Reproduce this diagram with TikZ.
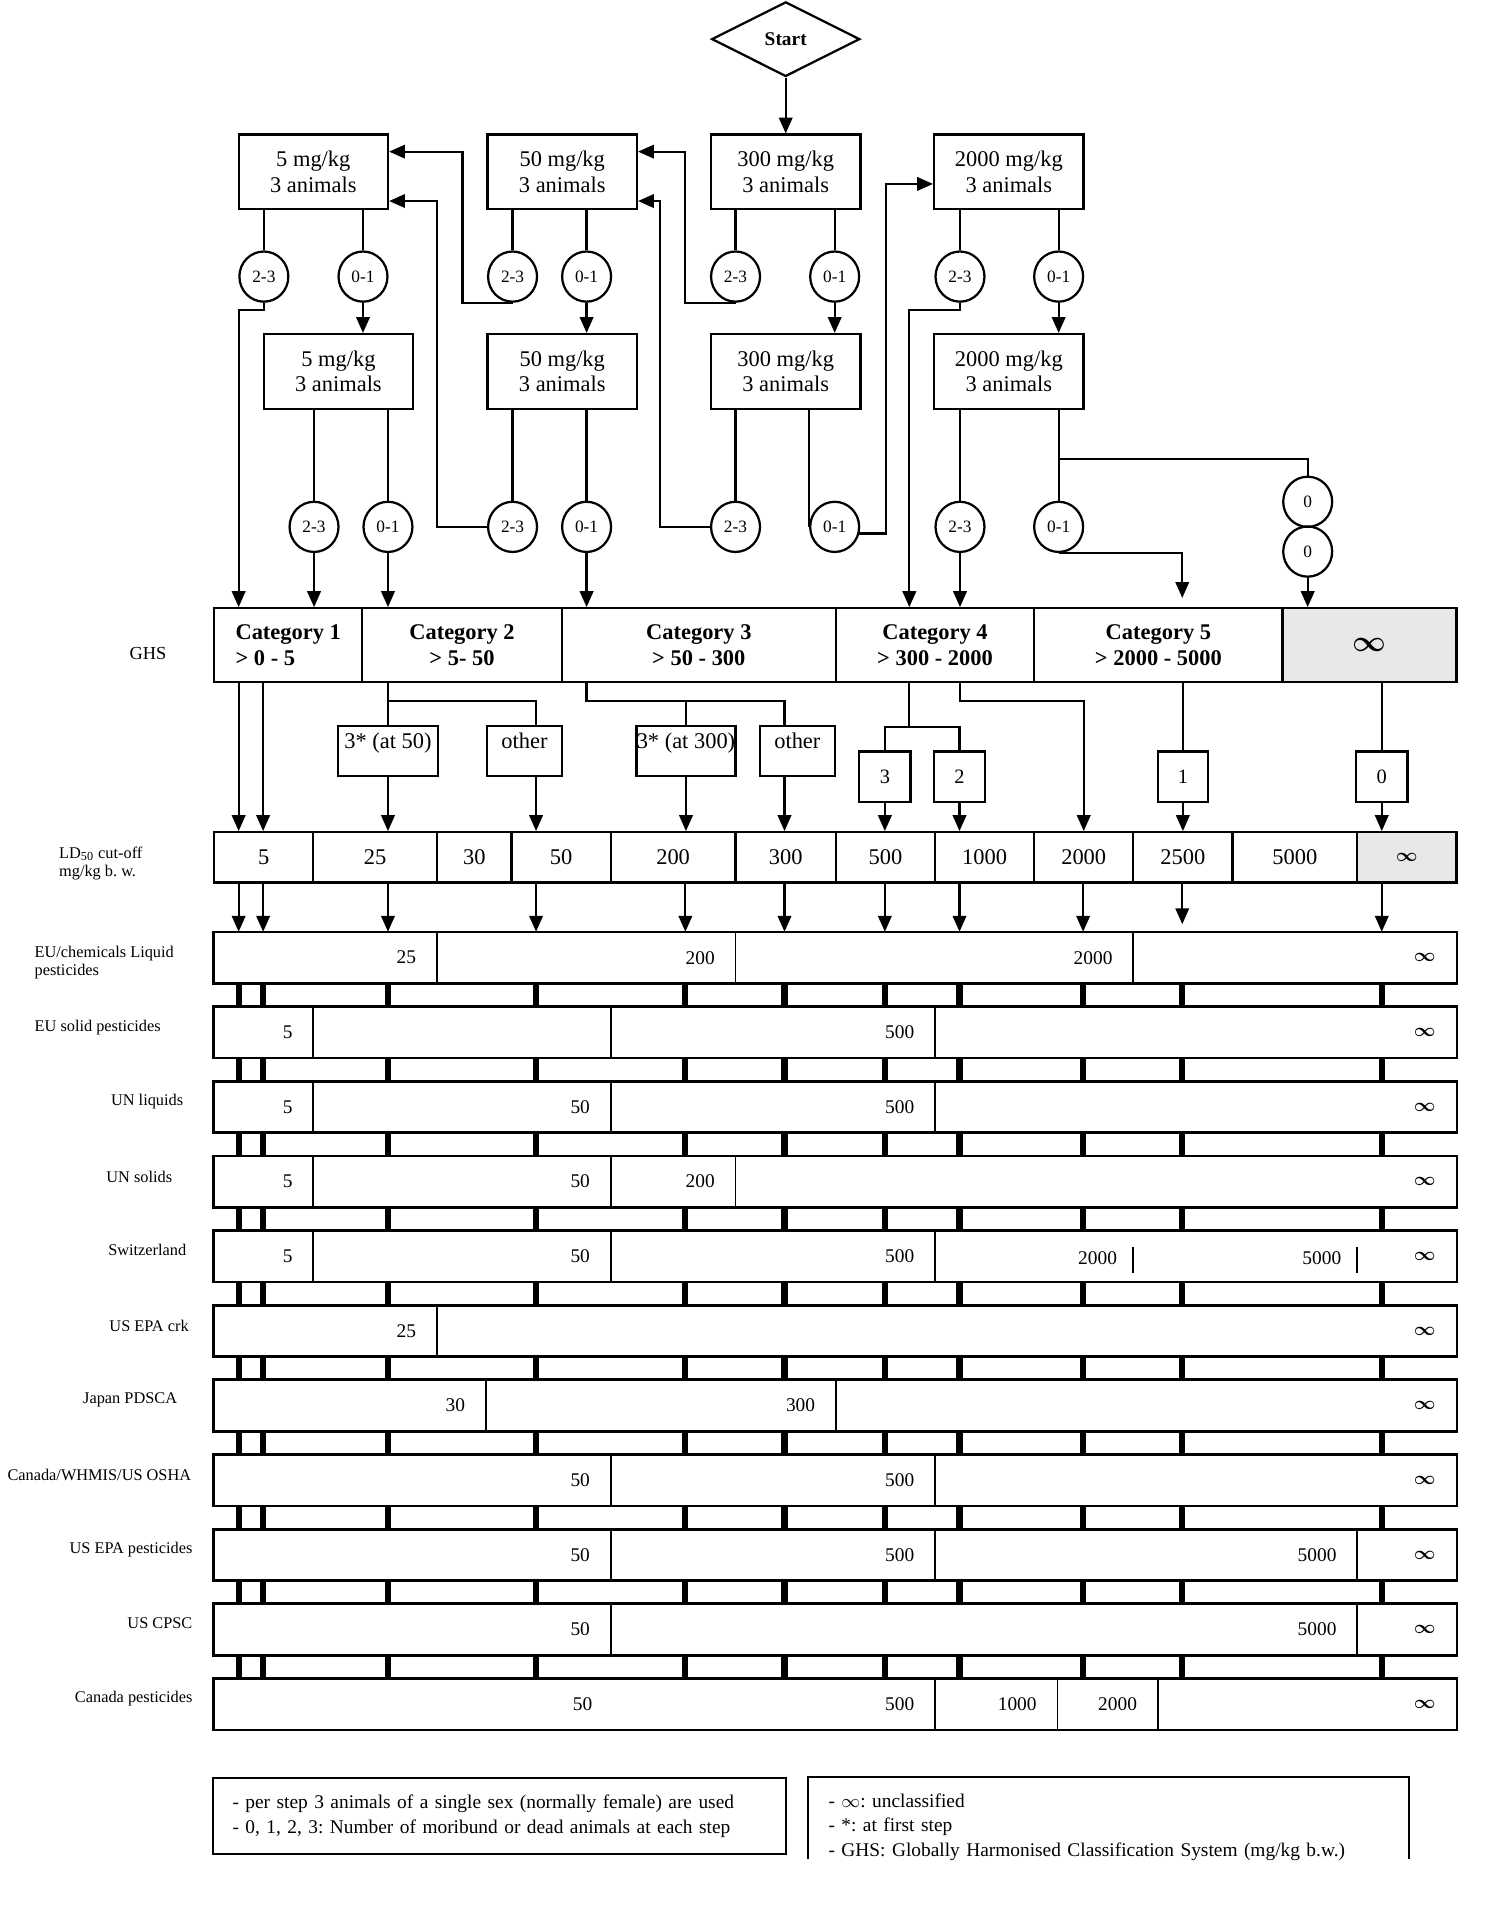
\documentclass[tikz,border=0pt]{standalone}
\usepackage{fontspec}
\setmainfont{Liberation Serif}
\usetikzlibrary{arrows.meta,shapes.geometric}
\frenchspacing

\newcommand{\cellat}[6]{%
  \pgfmathsetlengthmacro\cellw{(#4-#3)*0.6pt}%
  \node[#1, minimum width=\cellw] (#2) at ({(#3+#4)/2},#5) {#6};}
\newcommand{\segat}[5]{%
  \pgfmathsetlengthmacro\segw{(#3-#2-34)*0.6pt}%
  \node[segbox, text width=\segw] (#1) at ({(#2+#3)/2},#4) {#5};}
\newcommand{\unc}{{\boldmath$\infty$}}

\begin{document}
\begin{tikzpicture}[x=0.6pt, y=-0.6pt,
        startbox/.style={diamond, draw, line width=1.1pt, minimum width=72.6pt, minimum height=36.6pt, inner sep=0pt, font=\bfseries\fontsize{9.5}{11}\selectfont},
        dosebox/.style={rectangle, draw, line width=1.1pt, minimum width=73.2pt, minimum height=36.6pt, inner sep=0pt, align=center, font=\fontsize{11}{12.6}\selectfont},
        deaths/.style={ellipse, draw, line width=1.1pt, minimum width=24pt, minimum height=24.6pt, inner sep=0pt, font=\fontsize{8.5}{10}\selectfont},
        ghs/.style={rectangle, draw, line width=1.1pt, minimum height=36pt, inner sep=0pt, align=center, font=\bfseries\fontsize{11}{12.6}\selectfont},
        cutoff/.style={rectangle, draw, line width=1.1pt, minimum height=24.6pt, inner sep=0pt, font=\fontsize{11}{13}\selectfont},
        pickbox/.style={rectangle, draw, line width=1.1pt, text height=11pt, text depth=13.6pt, inner sep=0pt, font=\fontsize{11}{13}\selectfont},
        tally/.style={rectangle, draw, line width=1.1pt, minimum height=24.6pt, inner sep=0pt, font=\fontsize{10}{12}\selectfont},
        segbox/.style={rectangle, draw, line width=0.8pt, minimum height=24.6pt, inner xsep=10.2pt, inner ysep=0pt, align=right, font=\fontsize{9.5}{11}\selectfont},
        barnum/.style={inner sep=0pt, font=\fontsize{9.5}{11}\selectfont},
        unclass/.style={fill=gray!18},
        rowlab/.style={inner sep=0pt, align=left, font=\fontsize{8}{9}\selectfont},
        notebox/.style={inner xsep=9.6pt, inner ysep=0pt, align=left, line width=1.1pt, font=\fontsize{9.5}{12}\selectfont},
        rowframe/.style={line width=1.2pt},
        link/.style={line width=1.1pt},
        arrow/.style={-{Triangle[length=7.8pt,width=6.6pt]}, line width=1.1pt},
        gapbar/.style={line width=3pt}
    ]
        \useasboundingbox (0,0) rectangle (1229,1568);

        \coordinate (colA) at (195,0);
        \coordinate (colB) at (215,0);
        \coordinate (colC) at (317,0);
        \coordinate (colD) at (438,0);
        \coordinate (colE) at (560,0);
        \coordinate (colF) at (641,0);
        \coordinate (colG) at (723,0);
        \coordinate (colH) at (784,0);
        \coordinate (colI) at (885,0);
        \coordinate (colJ) at (966,0);
        \coordinate (colK) at (1129,0);
        \coordinate (fork2) at (317,573);
        \coordinate (fork3) at (479.3,573);
        \coordinate (fork4) at (743,594);
        \coordinate (fork4b) at (784.4,573);
        \coordinate (zerofork) at (865,375);

        \node[startbox] (start) at (642,32) {Start};

        \node[dosebox] (dose5) at (256,140.5) {5 mg/kg\\3 animals};
        \node[dosebox] (dose50) at (459.4,140.5) {50 mg/kg\\3 animals};
        \node[dosebox] (dose300) at (642,140.5) {300 mg/kg\\3 animals};
        \node[dosebox] (dose2000) at (824.3,140.5) {2000 mg/kg\\3 animals};

        \node[deaths] (hi5) at (215.6,226) {2-3};
        \node[deaths] (lo5) at (296.6,226) {0-1};
        \node[deaths] (hi50) at (418.8,226) {2-3};
        \node[deaths] (lo50) at (479.3,226) {0-1};
        \node[deaths] (hi300) at (601,226) {2-3};
        \node[deaths] (lo300) at (682,226) {0-1};
        \node[deaths] (hi2000) at (784.4,226) {2-3};
        \node[deaths] (lo2000) at (865,226) {0-1};

        \node[dosebox] (redo5) at (276.5,303.5) {5 mg/kg\\3 animals};
        \node[dosebox] (redo50) at (459.4,303.5) {50 mg/kg\\3 animals};
        \node[dosebox] (redo300) at (642,303.5) {300 mg/kg\\3 animals};
        \node[dosebox] (redo2000) at (824.3,303.5) {2000 mg/kg\\3 animals};

        \node[deaths] (hi5r) at (256.6,430.5) {2-3};
        \node[deaths] (lo5r) at (317,430.5) {0-1};
        \node[deaths] (hi50r) at (418.8,430.5) {2-3};
        \node[deaths] (lo50r) at (479.3,430.5) {0-1};
        \node[deaths] (hi300r) at (601,430.5) {2-3};
        \node[deaths] (lo300r) at (682,430.5) {0-1};
        \node[deaths] (hi2000r) at (784.4,430.5) {2-3};
        \node[deaths] (lo2000r) at (865,430.5) {0-1};
        \node[deaths] (zeroA) at (1068.5,410) {0};
        \node[deaths] (zeroB) at (1068.5,450.7) {0};

        \node[rowlab, font=\fontsize{9}{11}\selectfont] (ghslab) at (121,534) {GHS};
        \cellat{ghs, align=left}{g1}{175}{296}{527}{Category 1\\> 0 - 5}
        \cellat{ghs}{g2}{296}{459}{527}{Category 2\\> 5- 50}
        \cellat{ghs}{g3}{459}{683}{527}{Category 3\\> 50 - 300}
        \cellat{ghs}{g4}{683}{845}{527}{Category 4\\> 300 - 2000}
        \cellat{ghs}{g5}{845}{1048}{527}{Category 5\\> 2000 - 5000}
        \cellat{ghs, unclass}{g6}{1048}{1190}{527}{\fontsize{14}{16}\selectfont\unc}

        \cellat{pickbox}{p50}{276}{358}{613.5}{3* (at 50)}
        \cellat{pickbox}{o50}{398}{459}{613.5}{other}
        \cellat{pickbox}{p300}{520}{601}{613.5}{3* (at 300)}
        \cellat{pickbox}{o300}{621}{682}{613.5}{other}
        \cellat{tally}{n3}{702}{744}{634.5}{3}
        \cellat{tally}{n2}{763}{805}{634.5}{2}
        \cellat{tally}{n1}{946}{987}{634.5}{1}
        \cellat{tally}{n0}{1108}{1150}{634.5}{0}

        \node[rowlab, anchor=west] (ldlab) at (48,705.5) {LD\textsubscript{50} cut-off\\mg/kg b. w.};
        \cellat{cutoff}{l1}{175}{256}{700.5}{5}
        \cellat{cutoff}{l2}{256}{357}{700.5}{25}
        \cellat{cutoff}{l3}{357}{418}{700.5}{30}
        \cellat{cutoff}{l4}{418}{499}{700.5}{50}
        \cellat{cutoff}{l5}{499}{601}{700.5}{200}
        \cellat{cutoff}{l6}{601}{683}{700.5}{300}
        \cellat{cutoff}{l7}{683}{764}{700.5}{500}
        \cellat{cutoff}{l8}{764}{845}{700.5}{1000}
        \cellat{cutoff}{l9}{845}{926}{700.5}{2000}
        \cellat{cutoff}{l10}{926}{1007}{700.5}{2500}
        \cellat{cutoff}{l11}{1007}{1109}{700.5}{5000}
        \cellat{cutoff, unclass}{l12}{1109}{1190}{700.5}{\fontsize{9.5}{11}\selectfont\unc}

        \node[rowlab, anchor=west] (lab1) at (28,786.5) {EU/chemicals Liquid\\pesticides};
        \segat{bar1}{175}{357}{782.5}{25}
        \segat{bar1b}{357}{601}{782.5}{200}
        \segat{bar1c}{601}{926}{782.5}{2000}
        \segat{end1}{926}{1190}{782.5}{\unc}

        \node[rowlab, anchor=west] (lab2) at (28,840) {EU solid pesticides};
        \segat{bar2}{175}{256}{843.5}{5}
        \segat{bar2b}{256}{499}{843.5}{}
        \segat{bar2c}{499}{764}{843.5}{500}
        \segat{end2}{764}{1190}{843.5}{\unc}

        \node[rowlab, anchor=east] (lab3) at (150,900) {UN liquids};
        \segat{bar3}{175}{256}{904.5}{5}
        \segat{bar3b}{256}{499}{904.5}{50}
        \segat{bar3c}{499}{764}{904.5}{500}
        \segat{end3}{764}{1190}{904.5}{\unc}

        \node[rowlab, anchor=east] (lab4) at (141,961.5) {UN solids};
        \segat{bar4}{175}{256}{965.5}{5}
        \segat{bar4b}{256}{499}{965.5}{50}
        \segat{bar4c}{499}{601}{965.5}{200}
        \segat{end4}{601}{1190}{965.5}{\unc}

        \node[rowlab, anchor=east] (lab5) at (152.5,1021.5) {Switzerland};
        \segat{bar5}{175}{256}{1026.5}{5}
        \segat{bar5b}{256}{499}{1026.5}{50}
        \segat{bar5c}{499}{764}{1026.5}{500}
        \segat{end5}{764}{1190}{1026.5}{\unc}
        \node[barnum, anchor=base east] (ch2000) at (927,1033.6) {2000\hspace{7.5pt}\rule[-3.8pt]{0.9pt}{12.6pt}};
        \node[barnum, anchor=base east] (ch5000) at (1110.2,1033.6) {5000\hspace{7.5pt}\rule[-3.8pt]{0.9pt}{12.6pt}};

        \node[rowlab, anchor=east] (lab6) at (154.5,1083) {US EPA crk};
        \segat{bar6}{175}{357}{1087.5}{25}
        \segat{end6}{357}{1190}{1087.5}{\unc}

        \node[rowlab, anchor=east] (lab7) at (145,1144) {Japan PDSCA};
        \segat{bar7}{175}{397}{1148.5}{30}
        \segat{bar7b}{397}{683}{1148.5}{300}
        \segat{end7}{683}{1190}{1148.5}{\unc}

        \node[rowlab, anchor=east] (lab8) at (156.5,1205) {Canada/WHMIS/US OSHA};
        \segat{bar8}{175}{499}{1209.5}{50}
        \segat{bar8b}{499}{764}{1209.5}{500}
        \segat{end8}{764}{1190}{1209.5}{\unc}

        \node[rowlab, anchor=east] (lab9) at (157.5,1266) {US EPA pesticides};
        \segat{bar9}{175}{499}{1270.5}{50}
        \segat{bar9b}{499}{764}{1270.5}{500}
        \segat{bar9c}{764}{1109}{1270.5}{5000}
        \segat{end9}{1109}{1190}{1270.5}{\unc}

        \node[rowlab, anchor=east] (lab10) at (157.5,1326) {US CPSC};
        \segat{bar10}{175}{499}{1331.5}{50}
        \segat{bar10b}{499}{1109}{1331.5}{5000}
        \segat{end10}{1109}{1190}{1331.5}{\unc}

        \node[rowlab, anchor=east] (lab11) at (157.5,1388) {Canada pesticides};
        \segat{bar11}{175}{764}{1392.5}{500}
        \segat{bar11b}{764}{864}{1392.5}{1000}
        \segat{bar11c}{864}{946}{1392.5}{2000}
        \segat{end11}{946}{1190}{1392.5}{\unc}
        \node[barnum] (canpest50) at (476,1392.5) {50};

        \foreach \r in {1,...,11}
            \draw[rowframe] (bar\r.north west) rectangle (end\r.south east);

        \node[notebox, draw, minimum height=37.2pt, text width=261.6pt] (note1) at (408,1484)
            {- per step 3 animals of a single sex (normally female) are used\\- 0, 1, 2, 3: Number of moribund or dead animals at each step};
        \node[notebox, minimum height=48pt, text width=274.6pt] (note2) at (905.8,1493)
            {- $\infty$: unclassified\\- *: at first step\\- GHS: Globally Harmonised Classification System (mg/kg b.w.)};
        \draw[link] ([yshift=9pt]note2.south west) |- (note2.north east) -- ([yshift=9pt]note2.south east);

        \draw[arrow] (start) -- (dose300);
        \draw[link] (dose5.south -| hi5) -- (hi5);
        \draw[link] (dose5.south -| lo5) -- (lo5);
        \draw[link] (dose50.south -| hi50) -- (hi50);
        \draw[link] (dose50.south -| lo50) -- (lo50);
        \draw[link] (dose300.south -| hi300) -- (hi300);
        \draw[link] (dose300.south -| lo300) -- (lo300);
        \draw[link] (dose2000.south -| hi2000) -- (hi2000);
        \draw[link] (dose2000.south -| lo2000) -- (lo2000);
        \draw[arrow] (lo5) -- (lo5 |- redo5.north);
        \draw[arrow] (lo50) -- (lo50 |- redo50.north);
        \draw[arrow] (lo300) -- (lo300 |- redo300.north);
        \draw[arrow] (lo2000) -- (lo2000 |- redo2000.north);
        \draw[link] (redo5.south -| hi5r) -- (hi5r);
        \draw[link] (redo5.south -| lo5r) -- (lo5r);
        \draw[link] (redo50.south -| hi50r) -- (hi50r);
        \draw[link] (redo50.south -| lo50r) -- (lo50r);
        \draw[link] (redo300.south -| hi300r) -- (hi300r);
        \draw[link] (redo300.south -| lo300r.west) -- (lo300r.west);
        \draw[link] (redo2000.south -| hi2000r) -- (hi2000r);
        \draw[link] (redo2000.south -| lo2000r) -- (lo2000r);

        \draw[arrow] (hi50.south) -- ++(-41,0) |- (dose5.15);
        \draw[arrow] (hi50r.west) -- ++(-41,0) |- (dose5.-21);
        \draw[arrow] (hi300.south) -- ++(-41,0) |- (dose50.15);
        \draw[arrow] (hi300r.west) -- ++(-41,0) |- (dose50.-21);
        \draw[arrow] (lo300r.-15) -- ++(22,0) |- (dose2000.189);

        \draw[arrow] (hi5.south) -- ++(0,6) -| (colA |- g1.north);
        \draw[arrow] (hi5r) -- (hi5r |- g1.north);
        \draw[arrow] (lo5r) -- (lo5r |- g2.north);
        \draw[arrow] (lo50r) -- (lo50r |- g3.north);
        \draw[arrow] (hi2000.south) -- ++(0,6) -| (fork4 |- g4.north);
        \draw[arrow] (hi2000r) -- (hi2000r |- g4.north);
        \draw[arrow, shorten >=4.5pt] (lo2000r.south) -| (colJ |- g5.north);
        \draw[link] (zerofork) -| (zeroA);
        \draw[arrow] (zeroB) -- (zeroB |- g6.north);

        \draw[arrow] (colA |- g1.south) -- (colA |- l1.north);
        \draw[arrow] (colB |- g1.south) -- (colB |- l1.north);
        \draw[link] (g2.south -| fork2) -- (p50.north);
        \draw[link] (fork2) -| (o50.north -| colD);
        \draw[link] (g3.south -| fork3) -- (fork3) -| (o300.north -| colF);
        \draw[link] (fork3 -| p300) -- (p300.north);
        \draw[link] (g4.south -| fork4) -- (fork4);
        \draw[link] (n3.north) |- (fork4) -| (n2.north);
        \draw[arrow] (g4.south -| fork4b) -- (fork4b) -| (l9.north);
        \draw[link] (g5.south -| n1) -- (n1);
        \draw[link] (g6.south -| n0) -- (n0);
        \draw[arrow] (p50) -- (p50 |- l2.north);
        \draw[arrow] (o50.south -| colD) -- (colD |- l4.north);
        \draw[arrow] (p300) -- (p300 |- l5.north);
        \draw[arrow] (o300.south -| colF) -- (colF |- l6.north);
        \draw[arrow] (n3) -- (n3 |- l7.north);
        \draw[arrow] (n2) -- (n2 |- l8.north);
        \draw[arrow] (n1) -- (n1 |- l10.north);
        \draw[arrow] (n0) -- (n0 |- l12.north);

        \foreach \c in {A,B,C,D,E,F,G,H,I,K}
            \draw[arrow] (col\c |- l1.south) -- (col\c |- bar1.north);
        \draw[arrow, shorten >=3.7pt] (colJ |- l1.south) -- (colJ |- bar1.north);
        \foreach \r/\n in {1/2,2/3,3/4,4/5,5/6,6/7,7/8,8/9,9/10,10/11}
            \foreach \c in {A,B,C,D,E,F,G,H,I,J,K}
                \draw[gapbar] (col\c |- bar\r.south) -- (col\c |- bar\n.north);
    \end{tikzpicture}
\end{document}
